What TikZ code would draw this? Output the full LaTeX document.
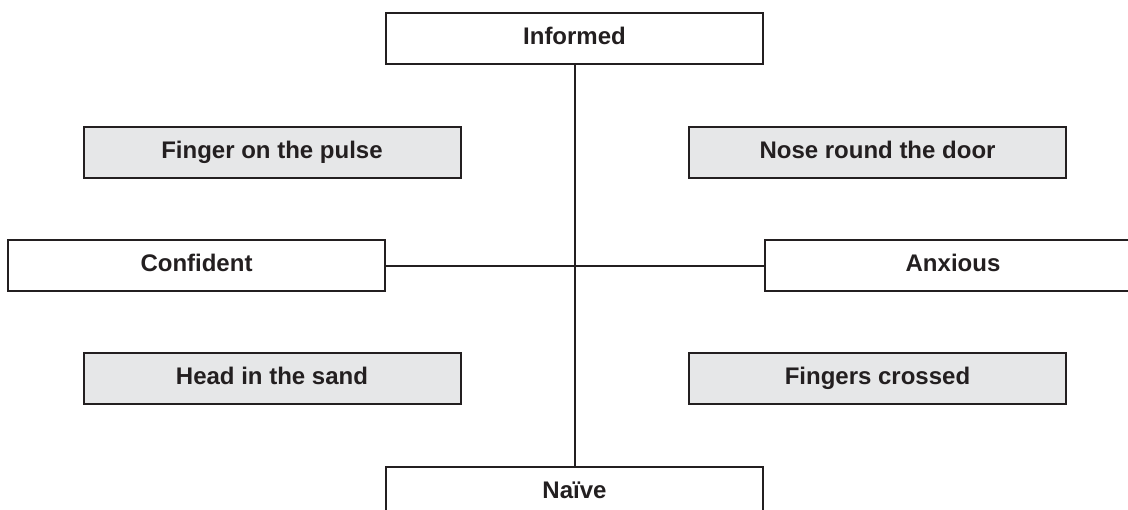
\documentclass[tikz,border=0pt]{standalone}
\usepackage{fontspec}
\setmainfont{Liberation Sans}
\definecolor{ink}{HTML}{231F20}
\definecolor{boxgray}{HTML}{E6E7E8}
\begin{document}
\begin{tikzpicture}[x=1pt,y=-1pt,
  base/.style={draw=ink, line width=2pt, rectangle, minimum width=377pt, minimum height=51pt,
    inner sep=0pt, text height=17pt, text depth=5pt, text=ink, font=\fontsize{24}{28}\selectfont\bfseries},
  wbox/.style={base, fill=white},
  gbox/.style={base, fill=boxgray},
  link/.style={draw=ink, line width=2pt}]
\clip (0,0) rectangle (1128,510);
\useasboundingbox (0,0) rectangle (1128,510);
\node[wbox] (inf) at (574.5,38.5) {Informed};
\node[wbox] (nai) at (574.5,492.5) {Naïve};
\node[wbox] (conf) at (196.5,266) {Confident};
\node[wbox] (anx) at (953,266) {Anxious};
\node[gbox] (pulse) at (272,152.5) {Finger on the pulse};
\node[gbox] (nose) at (877.5,152.5) {Nose round the door};
\node[gbox] (head) at (272,379) {Head in the sand};
\node[gbox] (cross) at (877.5,379) {Fingers crossed};
\draw[link] (inf.south) -- (nai.north);
\draw[link] (conf.east) -- (anx.west);
\end{tikzpicture}
\end{document}
